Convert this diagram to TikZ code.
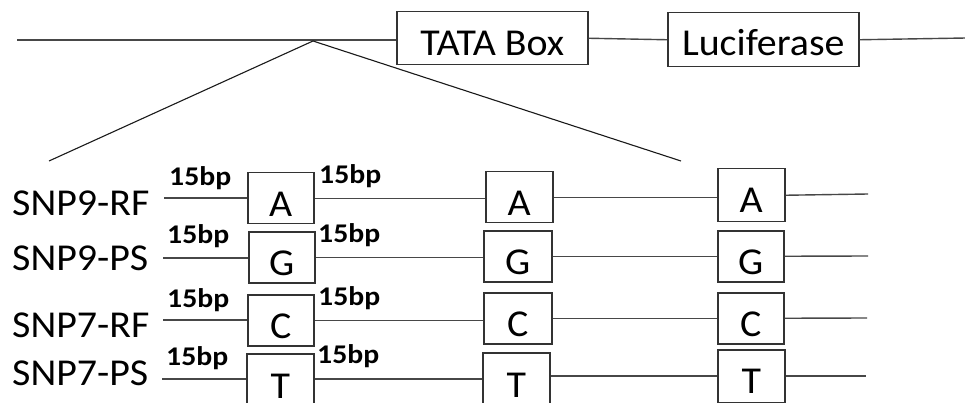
\documentclass[tikz,border=0pt]{standalone}
\usepackage{fontspec}
\usepackage{graphicx}
\setmainfont{Carlito}
\newfontfamily\widefont[FakeStretch=1.05]{Carlito}
\usetikzlibrary{calc}
\tikzset{
  wire/.style={draw=black!72, line width=1.4pt},
  leg/.style={draw=black!90, line width=1.1pt},
  bigbox/.style={draw=black!80, line width=1.5pt, inner sep=0pt, minimum width=191pt, anchor=north west, font=\widefont\fontsize{38}{40}\selectfont, text depth=0pt},
  basebox/.style={draw=black!80, line width=1.5pt, inner sep=0pt, minimum width=66pt, minimum height=51pt, anchor=north west, font=\widefont\fontsize{38}{40}\selectfont, text height=37pt, text depth=0pt},
  rowlabel/.style={anchor=base west, inner sep=0pt, font=\widefont\fontsize{38}{40}\selectfont},
  bplabel/.style={anchor=base west, inner sep=0pt, font=\bfseries\fontsize{27}{29}\selectfont}
}
\newcommand{\bp}{\scalebox{1.1}[1]{15bp}}
\begin{document}
\begin{tikzpicture}[x=1pt,y=-1pt]
\useasboundingbox (0,0) rectangle (965,403);
\clip (0,0) rectangle (965,403);
\fill[white] (0,0) rectangle (965,403);
% top construct
\node[bigbox, minimum height=53pt, text height=35pt] (tata) at (396,11) {TATA Box};
\node[bigbox, minimum height=54pt, text height=32pt] (luc) at (667,12) {Luciferase};
\coordinate (L0) at (17,40);
\coordinate (apex) at (313,41);
\coordinate (R0) at (966,38);
\coordinate (legL) at (49,161);
\coordinate (legR) at (681,161);
\draw[wire] (L0) -- (L0 -| tata.west);
\draw[wire] (tata.east) -- (luc.west);
\draw[wire] (luc.east) -- (R0);
\draw[leg] (legL) -- (apex) -- (legR);
% row labels
\node[rowlabel] (r1) at (12,215) {SNP9-RF};
\node[rowlabel] (r2) at (12,270) {SNP9-PS};
\node[rowlabel] (r3) at (12,337) {SNP7-RF};
\node[rowlabel] (r4) at (12,385) {SNP7-PS};
% boxes
\node[basebox] (a1) at (247,172) {A};
\node[basebox, minimum width=67pt] (a2) at (485,171) {A};
\node[basebox, minimum width=67pt, minimum height=53pt, text height=35pt] (a3) at (717,168) {A};
\node[basebox] (g1) at (248,231) {G};
\node[basebox, minimum width=68pt] (g2) at (483,230) {G};
\node[basebox] (g3) at (717,230) {G};
\node[basebox] (c1) at (247,294) {C};
\node[basebox, minimum width=68pt] (c2) at (483,292) {C};
\node[basebox] (c3) at (717,292) {C};
\node[basebox, minimum width=67pt, minimum height=60pt, text height=30pt] (t1) at (246,353) {T};
\node[basebox, minimum width=67pt, minimum height=60pt, text height=30pt] (t2) at (482,352) {T};
\node[basebox, minimum width=67pt, minimum height=53pt, text height=35pt] (t3) at (717,349) {T};
% line ends
\coordinate (s1) at (164,198);
\coordinate (s2) at (163,258);
\coordinate (s3) at (163,320);
\coordinate (s4) at (162,379);
\coordinate (e1) at (868,194);
\coordinate (e2) at (868,256);
\coordinate (e3) at (867,318);
\coordinate (e4) at (866,376);
% connectors
\draw[wire] (s1) -- (s1 -| a1.west);
\draw[wire] (a1.east) -- (a1.east -| a2.west);
\draw[wire] (a2.east) -- (a2.east -| a3.west);
\draw[wire] (a3.east) -- (e1);
\draw[wire] (s2) -- (s2 -| g1.west);
\draw[wire] (g1.east) -- (g1.east -| g2.west);
\draw[wire] (g2.east) -- (g2.east -| g3.west);
\draw[wire] (g3.east) -- (e2);
\draw[wire] (s3) -- (s3 -| c1.west);
\draw[wire] (c1.east) -- (c1.east -| c2.west);
\draw[wire] (c2.east) -- (c2.east -| c3.west);
\draw[wire] (c3.east) -- (e3);
\draw[wire] (s4) -- (s4 -| t1.west);
\draw[wire] (t1.east |- s4) -- (s4 -| t2.west);
\draw[wire] (t2.east |- e4) -- (e4 -| t3.west);
\draw[wire] (t3.east |- e4) -- (e4);
% 15bp labels
\node[bplabel] (p1l) at (169,186) {\bp};
\node[bplabel] (p1r) at (319,184) {\bp};
\node[bplabel] (p2l) at (167,243) {\bp};
\node[bplabel] (p2r) at (318,242) {\bp};
\node[bplabel] (p3l) at (167,307) {\bp};
\node[bplabel] (p3r) at (318,305) {\bp};
\node[bplabel] (p4l) at (166,365) {\bp};
\node[bplabel] (p4r) at (317,363) {\bp};
\end{tikzpicture}
\end{document}
